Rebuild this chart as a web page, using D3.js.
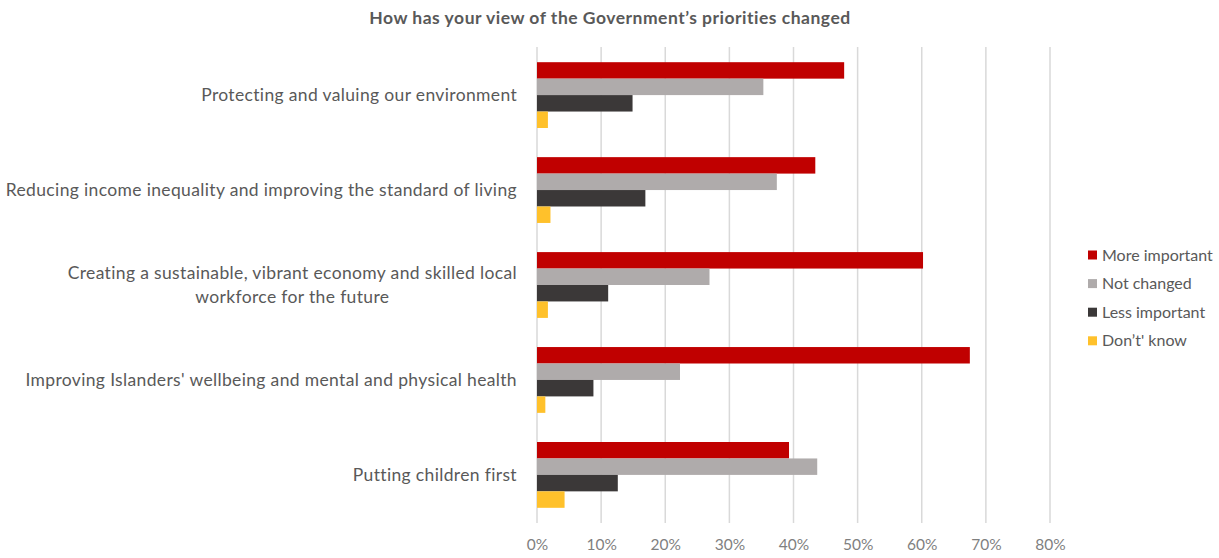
<!DOCTYPE html>
<html>
<head>
<meta charset="utf-8">
<script src="https://cdn.jsdelivr.net/npm/d3@7"></script>
<style>
  body { margin: 0; background: #fff; }
  svg { font-family: Lato, "Open Sans", sans-serif; }
</style>
</head>
<body>
<svg id="chart" width="1219" height="558"></svg>
<script>
var categories = [
  ["Protecting and valuing our environment"],
  ["Reducing income inequality and improving the standard of living"],
  ["Creating a sustainable, vibrant economy and skilled local", "workforce for the future"],
  ["Improving Islanders' wellbeing and mental and physical health"],
  ["Putting children first"]
];
var seriesNames = ["More important", "Not changed", "Less important", "Don\u2019t' know"];
var moreImportant = [0.479, 0.434, 0.602, 0.675, 0.393];
var notChanged = [0.353, 0.374, 0.269, 0.223, 0.437];
var lessImportant = [0.149, 0.169, 0.111, 0.088, 0.126];
var dontKnow = [0.017, 0.021, 0.017, 0.013, 0.043];
var tickValues = [0, 0.1, 0.2, 0.3, 0.4, 0.5, 0.6, 0.7, 0.8];
var colors = ["#c00000", "#afabab", "#3b3838", "#ffc12b"];

var series = [moreImportant, notChanged, lessImportant, dontKnow];

var svg = d3.select("#chart"),
  margin = { top: 47, left: 537, right: 170, bottom: 35 },
  width = +svg.attr("width") - margin.left - margin.right,
  height = +svg.attr("height") - margin.top - margin.bottom,
  g = svg.append("g").attr("transform", "translate(" + margin.left + "," + margin.top + ")");

var x = d3.scaleLinear().domain([0, 0.8]).range([0, 513]);
var y = d3.scaleBand().domain(d3.range(categories.length)).range([0, height])
  .paddingInner(0.307).paddingOuter(0.16);
var y1 = d3.scaleBand().domain(d3.range(series.length)).range([0, y.bandwidth()]);

// gridlines
g.append("g")
  .selectAll("line")
  .data(tickValues)
  .enter().append("line")
  .attr("x1", function(d) { return x(d); })
  .attr("x2", function(d) { return x(d); })
  .attr("y1", 0)
  .attr("y2", height)
  .attr("stroke", "#d9d9d9")
  .attr("stroke-width", 1.5);

// x axis labels
var xAxis = g.append("g")
  .attr("transform", "translate(0," + height + ")")
  .call(d3.axisBottom(x).tickValues(tickValues).tickFormat(d3.format(".0%")).tickSize(0).tickPadding(16));
xAxis.select(".domain").remove();
xAxis.selectAll("text")
  .attr("fill", "#7f7f7f")
  .style("font-size", "15.5px")
  .style("font-family", "Lato, sans-serif");

// bars
var groups = g.selectAll(".grp")
  .data(categories)
  .enter().append("g")
  .attr("class", "grp")
  .attr("transform", function(d, i) { return "translate(0," + y(i) + ")"; });

groups.selectAll("rect")
  .data(function(d, i) { return series.map(function(s, j) { return { s: j, v: s[i] }; }); })
  .enter().append("rect")
  .attr("x", 0)
  .attr("y", function(d) { return y1(d.s); })
  .attr("width", function(d) { return x(d.v); })
  .attr("height", y1.bandwidth())
  .attr("fill", function(d) { return colors[d.s]; });

// category labels (multi-line ones centred under the first line)
function label(sel, txt) {
  return sel.append("text")
    .attr("dy", "0.35em")
    .attr("fill", "#595959")
    .style("font-size", "17.5px")
    .style("letter-spacing", "0.35px")
    .text(txt);
}
groups.each(function(lines) {
  var grp = d3.select(this);
  var lh = 24;
  var y0 = y.bandwidth() / 2 - (lines.length - 1) * lh / 2;
  var first = label(grp, lines[0])
    .attr("x", -20)
    .attr("y", y0)
    .attr("text-anchor", "end");
  if (lines.length > 1) {
    var w = first.node().getComputedTextLength();
    var cx = -20 - w / 2;
    first.attr("x", cx).attr("text-anchor", "middle");
    lines.slice(1).forEach(function(line, k) {
      label(grp, line)
        .attr("x", cx)
        .attr("y", y0 + (k + 1) * lh)
        .attr("text-anchor", "middle");
    });
  }
});

// title
svg.append("text")
  .attr("x", 610)
  .attr("y", 24)
  .attr("text-anchor", "middle")
  .attr("fill", "#595959")
  .style("font-size", "17.5px")
  .style("letter-spacing", "0.5px")
  .style("font-weight", "bold")
  .text("How has your view of the Government\u2019s priorities changed");

// legend
var legend = svg.append("g").attr("transform", "translate(1088,255)");
var items = legend.selectAll("g")
  .data(seriesNames)
  .enter().append("g")
  .attr("transform", function(d, i) { return "translate(0," + i * 28.6 + ")"; });
items.append("rect")
  .attr("x", 0).attr("y", -4.5)
  .attr("width", 9).attr("height", 9)
  .attr("fill", function(d, i) { return colors[i]; });
items.append("text")
  .attr("x", 14)
  .attr("dy", "0.35em")
  .attr("fill", "#595959")
  .style("font-size", "16px")
  .text(function(d) { return d; });
</script>
</body>
</html>
